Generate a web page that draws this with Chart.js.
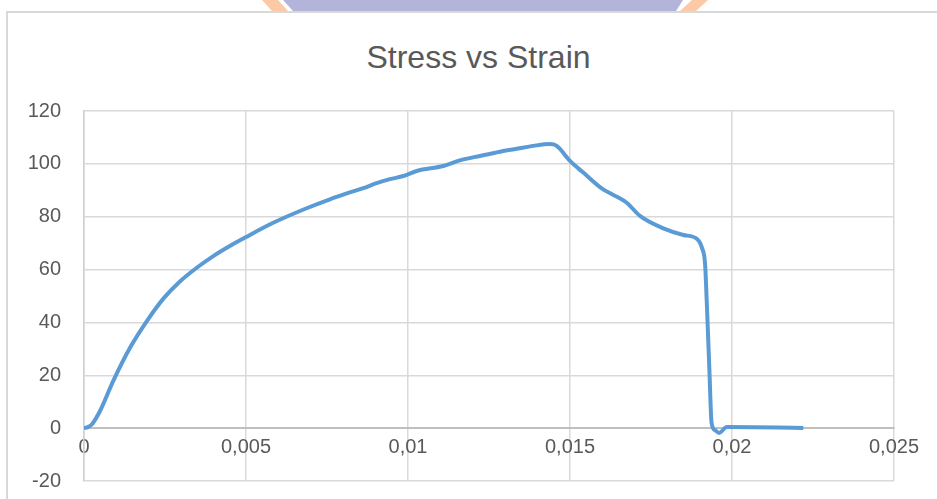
<!DOCTYPE html>
<html>
<head>
<meta charset="utf-8">
<script src="https://cdn.jsdelivr.net/npm/chart.js"></script>
<style>
  html, body { margin: 0; padding: 0; background: #fff; width: 937px; height: 499px; overflow: hidden; }
  #wrap { position: relative; width: 937px; height: 499px; overflow: hidden; }
  #frame { position: absolute; left: 6px; top: 11px; width: 960px; height: 520px; border: 2px solid #d9d9d9; box-sizing: border-box; }
  #title { position: absolute; left: 10px; top: 39px; width: 937px; text-align: center; font: 32px "Liberation Sans", Arial, sans-serif; line-height: 36px; color: #595959; }
  .wm { position: absolute; top: 0; height: 11px; }
  #wm-left { left: 262px; width: 26px; background: #fbc9a5; clip-path: polygon(0 0, 16px 0, 26px 100%, 10px 100%); }
  #wm-right { left: 680px; width: 28px; background: #fbc9a5; clip-path: polygon(12px 0, 28px 0, 16px 100%, 0 100%); }
  #wm-mid { left: 283px; width: 400px; background: #b3b4da; clip-path: polygon(0 0, 100% 0, 393px 100%, 10px 100%); }
  canvas { position: absolute; left: 0; top: 0; }
</style>
</head>
<body>
<div id="wrap">
  <div class="wm" id="wm-left"></div>
  <div class="wm" id="wm-mid"></div>
  <div class="wm" id="wm-right"></div>
  <div id="frame"></div>
  <div id="title">Stress vs Strain</div>
  <!-- canvas taller than the page: the bottom strip chart.js reserves falls outside and is clipped -->
  <canvas id="chart" width="937" height="516"></canvas>
</div>
<script>
// values
const strain = [
  0, 0.00012, 0.00024, 0.00049, 0.0009, 0.00142, 0.00194, 0.00245, 0.00296, 0.00348,
  0.00399, 0.0045, 0.005, 0.00584, 0.00687, 0.00759, 0.00811, 0.00862, 0.00903, 0.00944,
  0.00986, 0.01027, 0.01109, 0.0116, 0.01222, 0.01284, 0.01336, 0.01387, 0.01438, 0.01459,
  0.015, 0.01541, 0.01598, 0.01675, 0.01716, 0.01788, 0.0185, 0.01893, 0.01907, 0.01917,
  0.01922, 0.0193, 0.01937, 0.01948, 0.0196, 0.01984, 0.0222
];
const stress = [
  0, 0.4, 1.4, 6.4, 17.8, 30.4, 40.5, 49.0, 55.5, 60.7,
  65.1, 68.9, 72.3, 77.7, 83.2, 86.6, 88.8, 90.8, 92.7, 94.2,
  95.4, 97.3, 99.2, 101.3, 103.0, 104.6, 105.7, 106.8, 107.5, 106.8,
  101.1, 96.7, 90.7, 85.3, 80.3, 75.6, 73.1, 71.5, 68.3, 62.0,
  48.1, 22.8, 2.0, -0.8, -1.8, 0.4, 0.1
];
const xTicks = [0, 0.005, 0.01, 0.015, 0.02, 0.025];
const xTickLabels = ['0', '0,005', '0,01', '0,015', '0,02', '0,025'];
const yTicks = [-20, 0, 20, 40, 60, 80, 100, 120];

const points = strain.map((x, i) => ({ x: x, y: stress[i] }));
const tickFont = { family: '"Liberation Sans", Arial, sans-serif', size: 20 };

const ctx = document.getElementById('chart').getContext('2d');
new Chart(ctx, {
  type: 'line',
  data: {
    datasets: [
      {
        data: points,
        borderColor: '#5b9bd5',
        borderWidth: 4,
        pointRadius: 0,
        fill: false,
        cubicInterpolationMode: 'monotone'
      }
    ]
  },
  options: {
    responsive: false,
    animation: false,
    layout: { padding: { left: 0, right: 43, top: 111, bottom: 19 } },
    plugins: {
      legend: { display: false },
      tooltip: { enabled: false },
      title: { display: false }
    },
    scales: {
      x: {
        type: 'linear',
        min: 0,
        max: 0.025,
        position: { y: 0 },
        afterBuildTicks: (s) => { s.ticks = xTicks.map(v => ({ value: v })); },
        ticks: {
          callback: (v, i) => xTickLabels[i],
          color: '#595959',
          font: tickFont,
          padding: 7,
          maxRotation: 0,
          autoSkip: false
        },
        grid: { color: '#d9d9d9', lineWidth: 1.5, drawTicks: false },
        border: { color: '#bfbfbf', width: 2 }
      },
      y: {
        min: -20,
        max: 120,
        afterBuildTicks: (s) => { s.ticks = yTicks.map(v => ({ value: v })); },
        afterFit: (s) => { s.width = 84; },
        ticks: {
          color: '#595959',
          font: tickFont,
          padding: 23
        },
        grid: { color: '#d9d9d9', lineWidth: 1.5, drawTicks: false },
        border: { color: '#d0d0d0', width: 1.5 }
      }
    }
  }
});
</script>
</body>
</html>
